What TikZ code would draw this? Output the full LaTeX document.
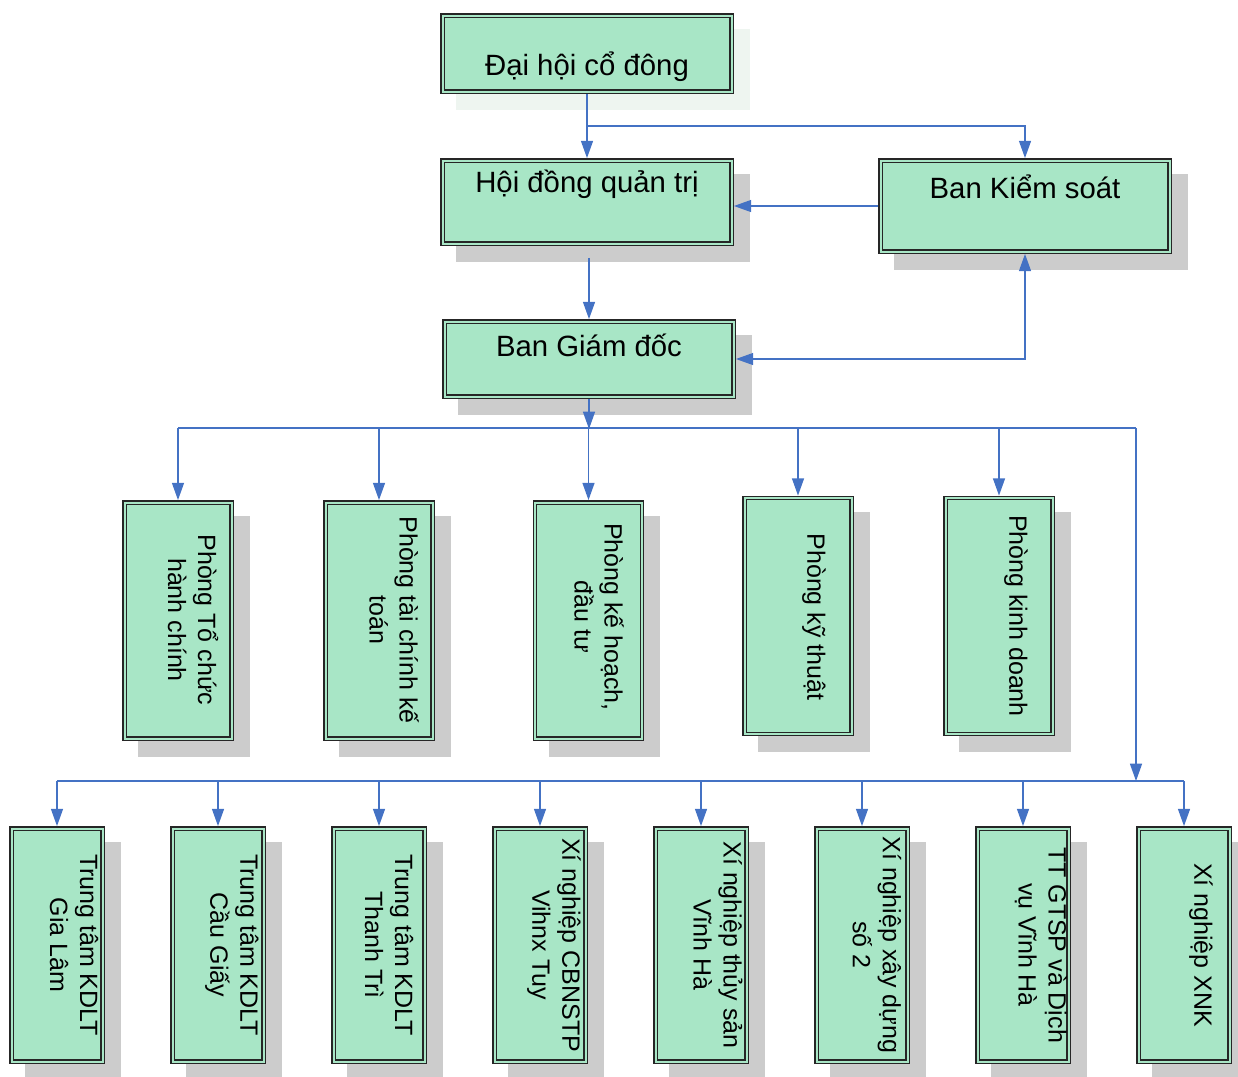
\documentclass[tikz,border=0pt]{standalone}
\usepackage{fontspec}
\setmainfont{Liberation Sans}
\usetikzlibrary{arrows.meta,calc}
\pgfdeclarelayer{bg}
\pgfsetlayers{bg,main}
\definecolor{boxfill}{RGB}{168,230,198}
\definecolor{linec}{RGB}{68,114,196}
\definecolor{shadowc}{RGB}{204,204,204}
\definecolor{shadowlt}{RGB}{238,245,240}
\begin{document}
\begin{tikzpicture}[x=0.75pt,y=-0.75pt,
 box/.style={rectangle, draw=black!85, line width=1.05pt, double=boxfill, double distance=1.5pt, fill=boxfill, inner sep=0pt, outer sep=1.8pt},
 bsize/.style 2 args={minimum width=#1*0.75pt, minimum height=#2*0.75pt},
 hbox/.style={box, bsize={289}{#1}},
 pbox/.style={box, bsize={107}{236}},
 xbox/.style={box, bsize={91}{233}},
 conn/.style={draw=linec, line width=1.1pt, -{Triangle[length=13pt,width=9pt]}},
 both/.style={draw=linec, line width=1.1pt, {Triangle[length=13pt,width=9pt]}-{Triangle[length=13pt,width=9pt]}},
 wire/.style={draw=linec, line width=1.1pt},
 htext/.style={font=\fontsize{22}{26}\selectfont, anchor=base, inner sep=0pt},
 vtext/.style={font=\fontsize{18.75}{22.5}\selectfont, rotate=-90, align=center, inner sep=0pt},
]
\useasboundingbox (0,0) rectangle (1238,1076);

% top boxes
\node[hbox=76] (A) at (587,53.5) {};
\node[hbox=83] (B) at (587,202) {};
\node[hbox=91] (C) at (1025,206) {};
\node[hbox=75] (D) at (589,359) {};
\node[htext] (tA) at (587,75) {Đại hội cổ đông};
\node[htext] (tB) at (587,192) {Hội đồng quản trị};
\node[htext] (tC) at (1025,198) {Ban Kiểm soát};
\node[htext] (tD) at (589,356) {Ban Giám đốc};

% departments
\node[pbox] (P1) at (178,620.5) {};
\node[pbox] (P2) at (379,620.5) {};
\node[pbox] (P3) at (588.5,620.5) {};
\node[pbox] (P4) at (798,616) {};
\node[pbox] (P5) at (999,616) {};
\node[vtext] (tP1) at (193,620) {Phòng Tổ chức\\hành chính};
\node[vtext] (tP2) at (394,620) {Phòng tài chính kế\\toán};
\node[vtext] (tP3) at (599,617) {Phòng kế hoạch,\\đầu tư};
\node[vtext] (tP4) at (814,617) {Phòng kỹ thuật};
\node[vtext] (tP5) at (1016,616) {Phòng kinh doanh};

% units
\node[xbox] (X1) at (57,945) {};
\node[xbox] (X2) at (218,945) {};
\node[xbox] (X3) at (379,945) {};
\node[xbox] (X4) at (540,945) {};
\node[xbox] (X5) at (701,945) {};
\node[xbox] (X6) at (862,945) {};
\node[xbox] (X7) at (1023,945) {};
\node[xbox] (X8) at (1184,945) {};
\node[vtext] (tX1) at (74,945) {Trung tâm KDLT\\Gia Lâm};
\node[vtext] (tX2) at (232,945) {Trung tâm KDLT\\Cầu Giấy};
\node[vtext] (tX3) at (389,945) {Trung tâm KDLT\\Thanh Trì};
\node[vtext] (tX4) at (554,945) {Xí nghiệp CBNSTP\\Vihnx Tuy};
\node[vtext] (tX5) at (718,945) {Xí nghiệp thủy sản\\Vĩnh Hà};
\node[vtext] (tX6) at (877,945) {Xí nghiệp xây dựng\\số 2};
\node[vtext] (tX7) at (1041,945) {TT GTSP và Dịch\\vụ Vĩnh Hà};
\node[vtext] (tX8) at (1201,945) {Xí nghiệp XNK};

% shadows
\begin{pgfonlayer}{bg}
\fill[shadowlt] ([shift={(16,16)}]A.south west) rectangle ([shift={(16,16)}]A.north east);
\foreach \n in {B,C,D,P1,P2,P3,P4,P5,X1,X2,X3,X4,X5,X6,X7,X8}
  \fill[shadowc] ([shift={(16,16)}]\n.south west) rectangle ([shift={(16,16)}]\n.north east);
\end{pgfonlayer}

% connectors
\coordinate (j1) at (587,126);
\draw[conn] (A.south) -- (B.north);
\draw[wire] (A.south |- j1) -- (j1);
\draw[conn] (j1) -| (C.north);
\draw[conn] (C.west) -- (C.west -| B.east);
\coordinate (hb) at ($(B.south -| D.north)+(0,12)$);
\draw[conn] (hb) -- (D.north);
\draw[both] (D.east) -| (C.south);

\coordinate (bus) at (589,429);
\coordinate (busL) at (178,428);
\coordinate (busR) at (1136,428);
\draw[conn] (D.south) -- (bus);
\draw[wire] (busL) -- (busR);
\foreach \p in {P1,P2,P3,P4,P5}
  \draw[conn] (\p.north |- busL) -- (\p.north);

\coordinate (bus2L) at (57,781);
\coordinate (bus2R) at (1184,781);
\coordinate (bus2J) at (1136,781);
\draw[conn] (busR) -- (bus2J);
\draw[wire] (bus2L) -- (bus2R);
\foreach \x in {X1,X2,X3,X4,X5,X6,X7,X8}
  \draw[conn] (\x.north |- bus2L) -- (\x.north);
\end{tikzpicture}
\end{document}
